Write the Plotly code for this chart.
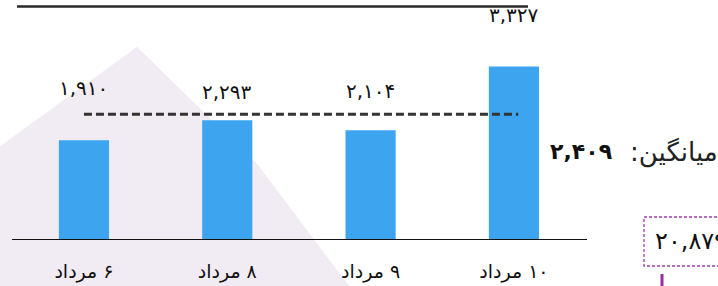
import plotly.graph_objects as go

# ---- data ----
categories = ["۶ مرداد", "۸ مرداد", "۹ مرداد", "۱۰ مرداد"]
values = [1910, 2293, 2104, 3327]
total_value = 20879
mean_label = "میانگین:"

RLM = "\u200f"
ticktext = [RLM + c for c in categories]

FA = str.maketrans("0123456789", "۰۱۲۳۴۵۶۷۸۹")
def fa(n):
    return f"{n:,}".translate(FA)

avg = int(sum(values) / len(values) + 0.5)

# ---- style ----
BAR = "#3da5f0"
FONT = "DejaVu Sans"
label_shift = [52, 28, 39, 51]

W, H = 718, 286
L, R, T, B = 12, 131, 0, 46
PW, PH = W - L - R, H - T - B

def px(x):
    return (x - L) / PW

def py(y):
    return (H - B - y) / PH

x_idx = list(range(len(categories)))

fig = go.Figure()
fig.add_trace(go.Bar(
    x=x_idx, y=values, width=0.35,
    marker=dict(color=BAR, line=dict(width=0)),
    hoverinfo="skip",
))

shapes = []
# background lavender shape
path = "M {} {} L {} {} L {} {} L {} {} L {} {} Z".format(
    px(137), py(47), px(258), py(165), px(352), py(290),
    px(-5), py(290), px(-5), py(150))
shapes.append(dict(type="path", path=path, xref="paper", yref="paper",
                   fillcolor="#f1ebf3", line=dict(width=0), layer="below"))
# top line
shapes.append(dict(type="line", xref="paper", yref="paper",
                   x0=px(17), x1=px(528), y0=py(6.5), y1=py(6.5),
                   line=dict(color="#2a2a2a", width=2.5)))
# baseline
shapes.append(dict(type="line", xref="paper", yref="y",
                   x0=0, x1=1, y0=0, y1=0,
                   line=dict(color="#111111", width=2)))
# average dashed line
shapes.append(dict(type="line", xref="x", yref="y",
                   x0=0, x1=3.03, y0=avg, y1=avg,
                   line=dict(color="#333333", width=3, dash="8px,4px")))
# bottom-right dashed box
shapes.append(dict(type="rect", xref="paper", yref="paper",
                   x0=px(644), x1=px(730), y0=py(217), y1=py(266),
                   line=dict(color="#a03ca8", width=1.3, dash="3px,2px"),
                   fillcolor="rgba(0,0,0,0)"))
# purple stem
shapes.append(dict(type="line", xref="paper", yref="paper",
                   x0=px(662), x1=px(662), y0=py(274), y1=py(290),
                   line=dict(color="#9c2aa0", width=3)))

annotations = []
for i, v in enumerate(values):
    annotations.append(dict(
        x=i, y=v, xref="x", yref="y", text=fa(v), showarrow=False,
        yanchor="middle", yshift=label_shift[i],
        font=dict(family=FONT, size=20, color="#111111")))

annotations.append(dict(
    xref="paper", yref="paper", x=px(720), y=py(152), xanchor="right",
    yanchor="middle", text=mean_label + RLM, showarrow=False,
    font=dict(family=FONT, size=26, color="#222222")))
annotations.append(dict(
    xref="paper", yref="paper", x=px(614), y=py(151), xanchor="right",
    yanchor="middle", text="<b>" + fa(avg) + "</b>", showarrow=False,
    font=dict(family=FONT, size=22, color="#111111")))
annotations.append(dict(
    xref="paper", yref="paper", x=px(653), y=py(241), xanchor="left",
    yanchor="middle", text=fa(total_value), showarrow=False,
    font=dict(family=FONT, size=24, color="#111111")))

fig.update_layout(
    width=W, height=H,
    margin=dict(l=L, r=R, t=T, b=B, pad=0),
    paper_bgcolor="white", plot_bgcolor="rgba(0,0,0,0)",
    showlegend=False,
    shapes=shapes, annotations=annotations,
    xaxis=dict(range=[-0.502, 3.51], tickmode="array", tickvals=x_idx,
               ticktext=ticktext, showgrid=False, zeroline=False,
               showline=False, ticks="", ticklabelstandoff=18,
               tickfont=dict(family=FONT, size=19, color="#111111"),
               fixedrange=True),
    yaxis=dict(range=[0, 4600], visible=False, fixedrange=True),
)

fig.write_html("out.html", config={"displayModeBar": False},
               post_script="document.body.style.margin='0';document.body.style.overflow='hidden';")
